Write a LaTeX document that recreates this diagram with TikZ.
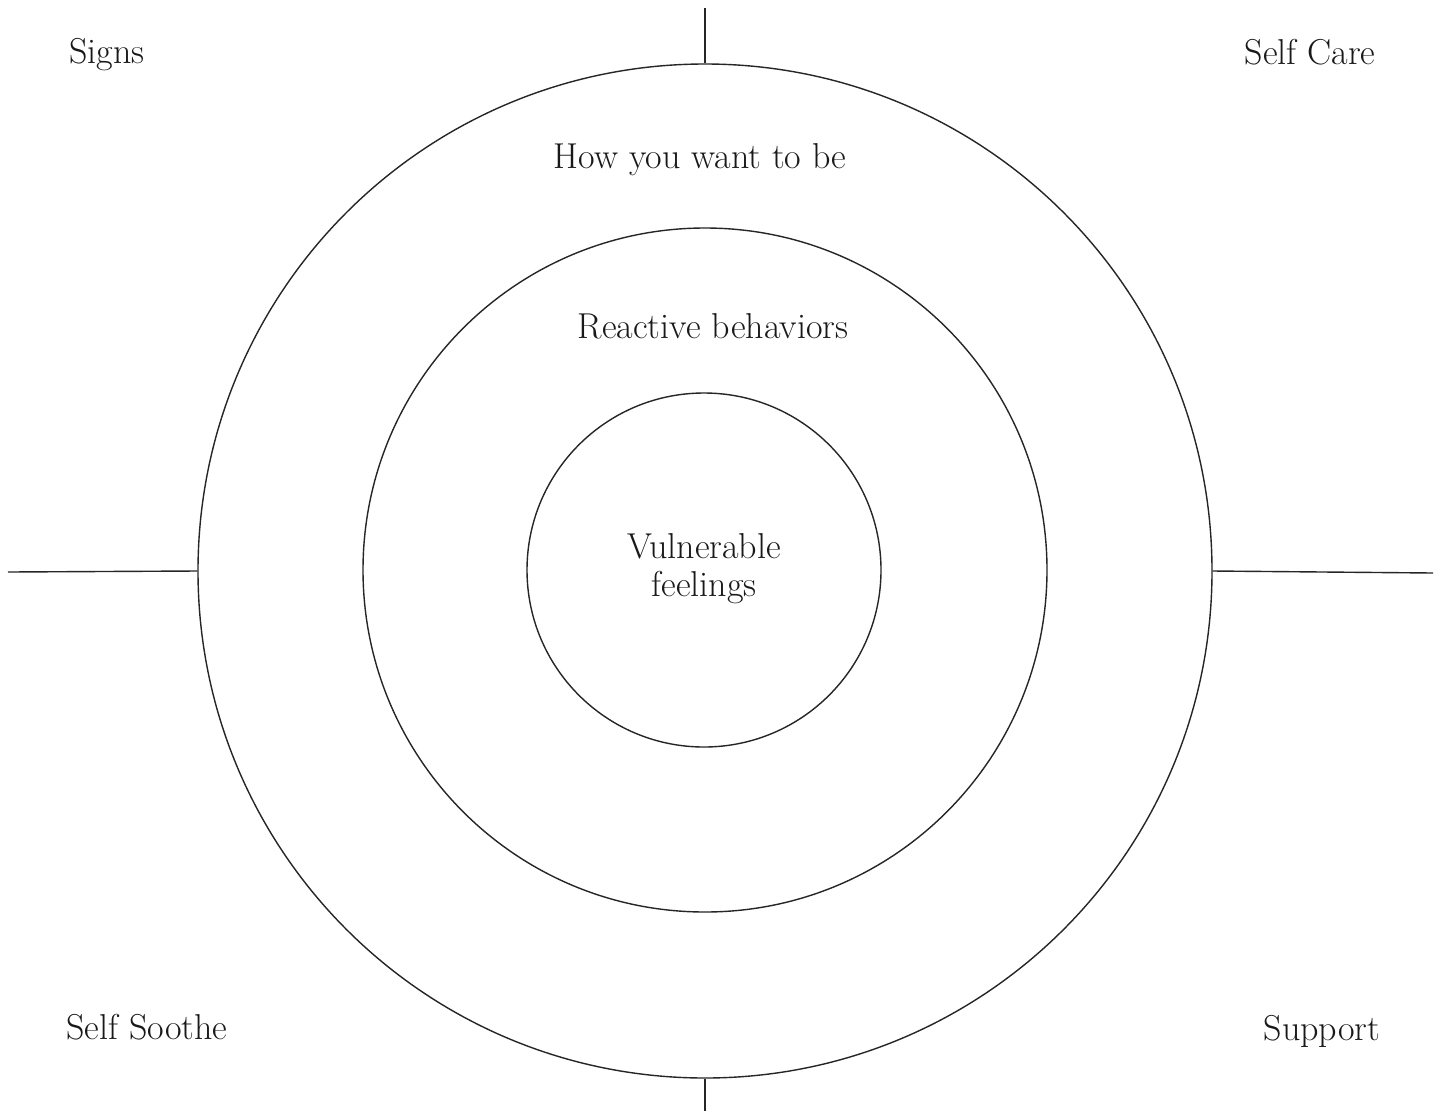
\documentclass[tikz,border=0pt]{standalone}
\begin{document}
\begin{tikzpicture}[x=1pt,y=-1pt,
  ring/.style={draw=black!85, line width=1.4pt, circle, inner sep=0pt},
  tick/.style={draw=black!85, line width=1.4pt},
  lbl/.style={inner sep=0pt, anchor=base, font=\fontsize{36}{38}\selectfont, text=black!90, align=center}]
\useasboundingbox[fill=white] (0,0) rectangle (1442,1111);
\node[ring, minimum size=1014pt] (outer) at (705,571) {};
\node[ring, minimum size=684pt] (middle) at (705,570) {};
\node[ring, minimum size=354pt] (inner) at (704,570) {};
\coordinate (topend) at (705,8);
\coordinate (botend) at (705,1111);
\coordinate (leftend) at (8,572);
\coordinate (rightend) at (1433,573);
\draw[tick] (outer.north) -- (topend);
\draw[tick] (outer.south) -- (botend);
\draw[tick] (outer.west) -- (leftend);
\draw[tick] (outer.east) -- (rightend);
\node[lbl] (how) at (700,168) {How you want to be};
\node[lbl] (react) at (713,338) {Reactive behaviors};
\node[lbl, anchor=north] (vuln) at (704,533) {Vulnerable\\feelings};
\node[lbl] (signs) at (107,63) {Signs};
\node[lbl] (care) at (1310,64) {Self Care};
\node[lbl] (soothe) at (147,1039) {Self Soothe};
\node[lbl] (support) at (1322,1040) {Support};
\end{tikzpicture}
\end{document}
